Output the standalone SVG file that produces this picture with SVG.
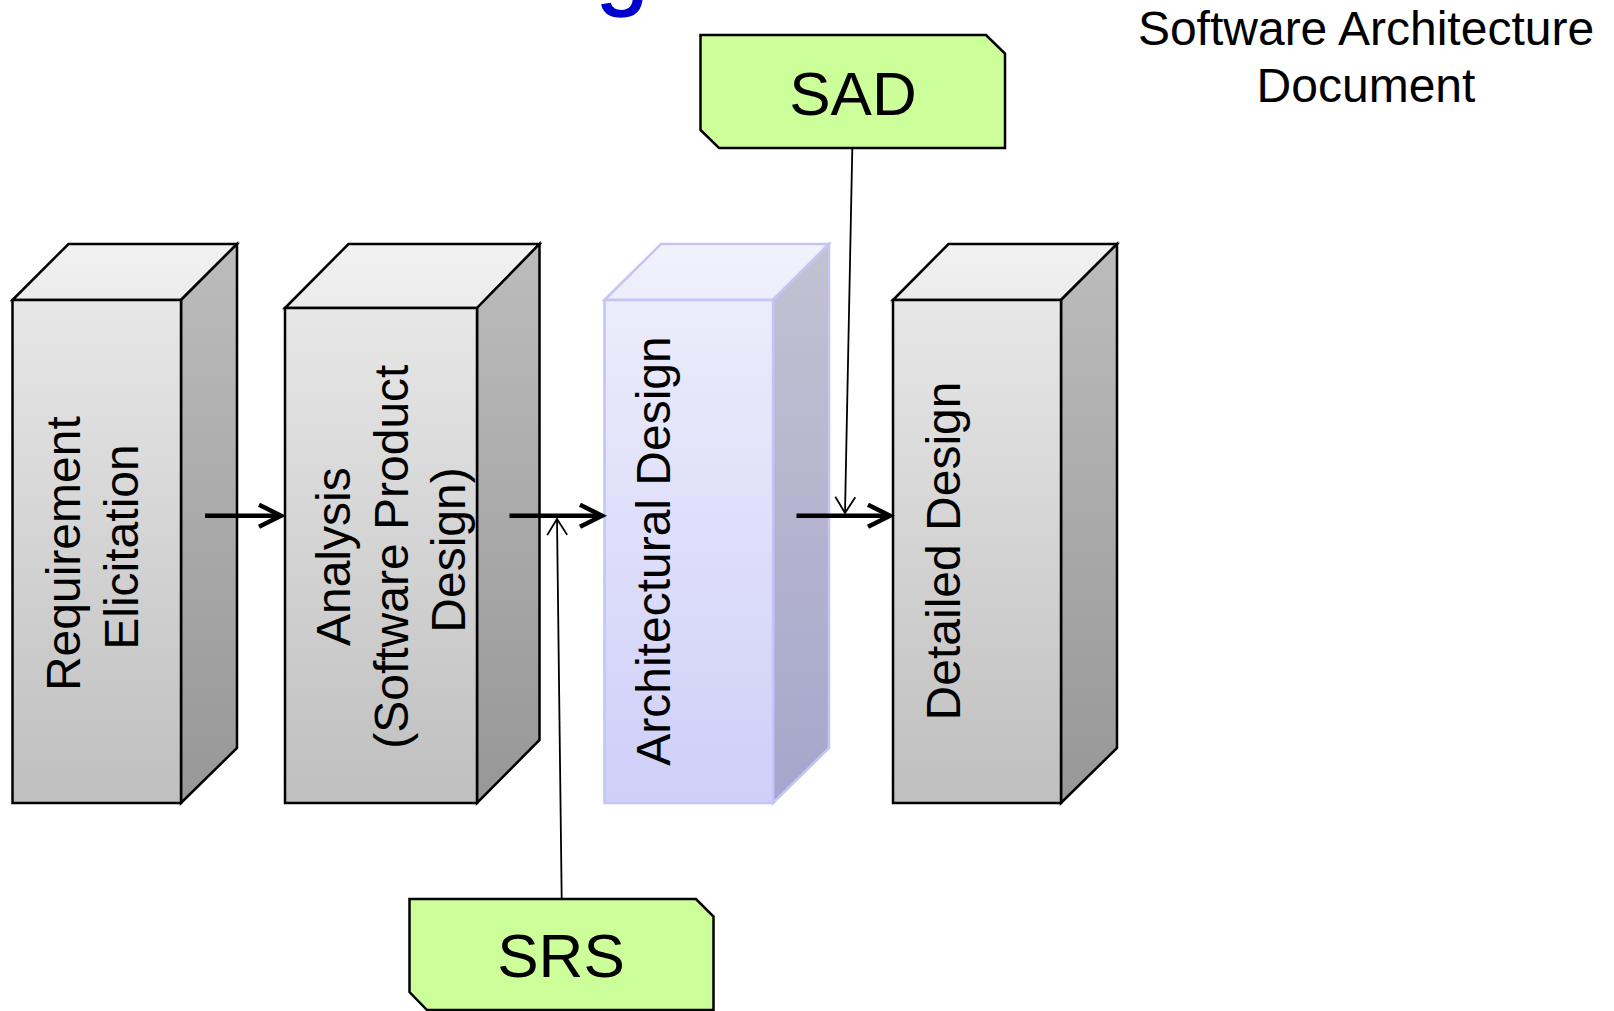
<svg xmlns="http://www.w3.org/2000/svg" width="1614" height="1011" viewBox="0 0 1614 1011">
  <style>
    .lbl { font-family: "Liberation Sans", Arial, sans-serif; fill: #000; }
    .stage { font-size: 48px; text-anchor: middle; }
    .doc { font-size: 62px; text-anchor: middle; }
    .edge { stroke: #000; stroke-width: 2.5; stroke-linejoin: miter; }
    .edgeP { stroke: #c4c4f6; stroke-width: 2.5; }
    .flow { stroke: #000; stroke-width: 4.5; fill: none; }
    .feed { stroke: #000; stroke-width: 1.8; fill: none; }
    .tag { fill: #ccff99; stroke: #000; stroke-width: 2.5; }
  </style>
  <defs>
    <linearGradient id="gFront" x1="0" y1="0" x2="0" y2="1">
      <stop offset="0" stop-color="#e7e7e7"/>
      <stop offset="1" stop-color="#bfbfbf"/>
    </linearGradient>
    <linearGradient id="gSide" x1="0" y1="0" x2="0" y2="1">
      <stop offset="0" stop-color="#bcbcbc"/>
      <stop offset="1" stop-color="#979797"/>
    </linearGradient>
    <linearGradient id="gTop" x1="0" y1="0" x2="0" y2="1">
      <stop offset="0" stop-color="#f2f2f2"/>
      <stop offset="1" stop-color="#ebebeb"/>
    </linearGradient>
    <linearGradient id="pFront" x1="0" y1="0" x2="0" y2="1">
      <stop offset="0" stop-color="#ececfb"/>
      <stop offset="1" stop-color="#cfcff9"/>
    </linearGradient>
    <linearGradient id="pSide" x1="0" y1="0" x2="0" y2="1">
      <stop offset="0" stop-color="#c2c2d2"/>
      <stop offset="1" stop-color="#a6a6cc"/>
    </linearGradient>
    <linearGradient id="pTop" x1="0" y1="0" x2="0" y2="1">
      <stop offset="0" stop-color="#f2f2fd"/>
      <stop offset="1" stop-color="#ededfb"/>
    </linearGradient>
    <marker id="headThick" markerUnits="userSpaceOnUse" viewBox="-26 -14 30 28" refX="0" refY="0" markerWidth="30" markerHeight="28" orient="auto" overflow="visible">
      <path d="M -22 -11 L 0 0 L -22 11" fill="none" stroke="#000" stroke-width="4.5"/>
    </marker>
    <marker id="headThin" markerUnits="userSpaceOnUse" viewBox="-18 -12 20 24" refX="0" refY="0" markerWidth="20" markerHeight="24" orient="auto" overflow="visible">
      <path d="M -16 -10 L 0 0 L -16 10" fill="none" stroke="#000" stroke-width="1.8"/>
    </marker>
  </defs>

  <rect width="1614" height="1011" fill="#fff"/>

  <!-- descender of the slide title, running off the top edge -->
  <text class="lbl" x="596" y="-3" font-size="94" style="fill:#0000cc;stroke:#0000cc;stroke-width:1.5">g</text>

  <!-- caption -->
  <g id="caption">
    <text class="lbl stage" x="1366" y="45">Software Architecture</text>
    <text class="lbl stage" x="1366" y="102">Document</text>
  </g>

  <!-- stage 1 -->
  <g id="requirement-elicitation">
    <polygon class="edge" fill="url(#gTop)" points="12.5,300 68.5,244 237,244 181,300"/>
    <polygon class="edge" fill="url(#gSide)" points="181,300 237,244 237,748 181,803"/>
    <rect class="edge" fill="url(#gFront)" x="12.5" y="300" width="168.5" height="503"/>
    <text class="lbl stage" transform="translate(80,547) rotate(-90)">
      <tspan x="0" y="0">Requirement</tspan>
      <tspan x="0" y="57.6">Elicitation</tspan>
    </text>
  </g>

  <!-- stage 2 -->
  <g id="analysis">
    <polygon class="edge" fill="url(#gTop)" points="285,308 348.5,244 539.5,244 477,308"/>
    <polygon class="edge" fill="url(#gSide)" points="477,308 539.5,244 539.5,740 477,803"/>
    <rect class="edge" fill="url(#gFront)" x="285" y="308" width="192" height="495"/>
    <text class="lbl stage" transform="translate(350,550) rotate(-90)">
      <tspan x="0" y="0">Analysis</tspan>
      <tspan x="0" y="57.6">(Software Product</tspan>
      <tspan x="0" y="115.2">Design)</tspan>
    </text>
  </g>

  <!-- stage 3 (highlighted) -->
  <g id="architectural-design">
    <polygon class="edgeP" fill="url(#pTop)" points="604.5,300 661,244 829,244 773,300"/>
    <polygon class="edgeP" fill="url(#pSide)" points="773,300 829,244 829,748 773,803"/>
    <rect class="edgeP" fill="url(#pFront)" x="604.5" y="300" width="168.5" height="503"/>
    <text class="lbl stage" transform="translate(670,551) rotate(-90)">Architectural Design</text>
  </g>

  <!-- stage 4 -->
  <g id="detailed-design">
    <polygon class="edge" fill="url(#gTop)" points="893,300 948.5,244 1117,244 1061,300"/>
    <polygon class="edge" fill="url(#gSide)" points="1061,300 1117,244 1117,748 1061,803"/>
    <rect class="edge" fill="url(#gFront)" x="893" y="300" width="168" height="503"/>
    <text class="lbl stage" transform="translate(960,551) rotate(-90)">Detailed Design</text>
  </g>

  <!-- documents -->
  <g id="sad">
    <polygon class="tag" points="700.5,35 986,35 1005,53.5 1005,148 719,148 700.5,130"/>
    <text class="lbl doc" x="853" y="115">SAD</text>
  </g>
  <g id="srs">
    <polygon class="tag" points="409.5,899 696,899 713.5,916.5 713.5,1010 427,1010 409.5,992"/>
    <text class="lbl doc" x="561" y="977">SRS</text>
  </g>

  <!-- connectors -->
  <g id="connectors">
    <line class="flow" x1="205" y1="515.7" x2="281" y2="515.7" marker-end="url(#headThick)"/>
    <line class="flow" x1="509.5" y1="515.7" x2="602" y2="515.7" marker-end="url(#headThick)"/>
    <line class="flow" x1="796.5" y1="515.7" x2="890" y2="515.7" marker-end="url(#headThick)"/>
    <line class="feed" x1="852.3" y1="148" x2="845" y2="513" marker-end="url(#headThin)"/>
    <line class="feed" x1="561.7" y1="899" x2="557" y2="519" marker-end="url(#headThin)"/>
  </g>
</svg>
